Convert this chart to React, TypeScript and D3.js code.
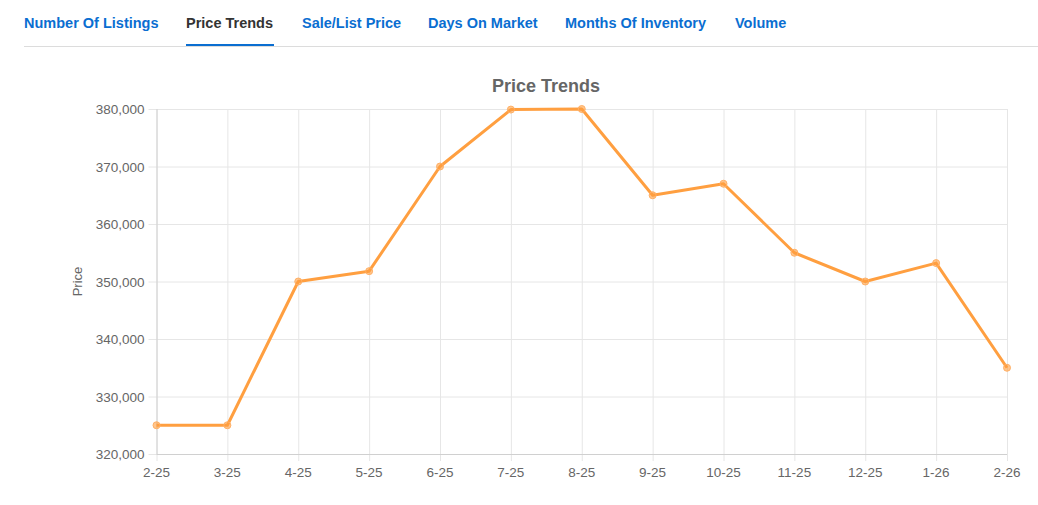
import React from "react";
import * as d3 from "d3";

const categories = ["2-25","3-25","4-25","5-25","6-25","7-25","8-25","9-25","10-25","11-25","12-25","1-26","2-26"];
const prices = [325000,325000,350000,351800,370000,379900,380000,365000,367000,355000,350000,353200,335000];
const yTicks = [320000,330000,340000,350000,360000,370000,380000];
const tabs = ["Number Of Listings","Price Trends","Sale/List Price","Days On Market","Months Of Inventory","Volume"];
const tabX = [24,186,302,428,565,735];
const activeTab = 1;

export default function App() {
  const W = 1038, H = 505;
  const left = 156.5, right = 1007, top = 109, bottom = 454;
  const x = d3.scalePoint<string>().domain(categories).range([left, right]);
  const y = d3.scaleLinear().domain([320000, 380000]).range([bottom, top]);
  const line = d3.line<number>().x((_, i) => x(categories[i])!).y(d => y(d));
  const fmt = d3.format(",");
  const font = "'Liberation Sans', Arial, sans-serif";
  return (
    <svg width={W} height={H} style={{ position: "absolute", left: 0, top: 0, fontFamily: font }}>
      <rect width={W} height={H} fill="#fff" />
      {tabs.map((t, i) => (
        <text key={t} x={tabX[i]} y={28} fontSize={14.5} fontWeight="bold" fill={i === activeTab ? "#333" : "#0a6ed1"}>{t}</text>
      ))}
      <line x1={24} x2={1038} y1={46.5} y2={46.5} stroke="#dcdcdc" strokeWidth={1} />
      <line x1={186} x2={274} y1={45} y2={45} stroke="#0a6ed1" strokeWidth={2} />
      <text x={546} y={92} textAnchor="middle" fontSize={18} fontWeight="bold" fill="#666">Price Trends</text>
      <text transform={`translate(82,${(top + bottom) / 2}) rotate(-90)`} textAnchor="middle" fontSize={13} fill="#666">Price</text>
      {yTicks.map(t => (
        <g key={t}>
          <line x1={left - 8} x2={right} y1={y(t) + 0.5} y2={y(t) + 0.5} stroke="#e6e6e6" />
          <text x={left - 12} y={y(t) + 5} textAnchor="end" fontSize={13.5} fill="#666">{fmt(t)}</text>
        </g>
      ))}
      {categories.map(c => (
        <g key={c}>
          <line x1={x(c)! + 0.5} x2={x(c)! + 0.5} y1={top} y2={bottom + 7} stroke="#e6e6e6" />
          <text x={x(c)!} y={477} textAnchor="middle" fontSize={13.5} fill="#666">{c}</text>
        </g>
      ))}
      <line x1={left} x2={right} y1={bottom + 0.5} y2={bottom + 0.5} stroke="#d0d0d0" />
      <line x1={left + 0.5} x2={left + 0.5} y1={top} y2={bottom} stroke="#d0d0d0" />
      <path d={line(prices)!} fill="none" stroke="#ff9f40" strokeWidth={3} strokeLinejoin="round" />
      {prices.map((p, i) => (
        <circle key={i} cx={x(categories[i])!} cy={y(p)} r={3.5} fill="rgba(255,159,64,0.6)" stroke="#ffb066" strokeWidth={1} />
      ))}
    </svg>
  );
}
